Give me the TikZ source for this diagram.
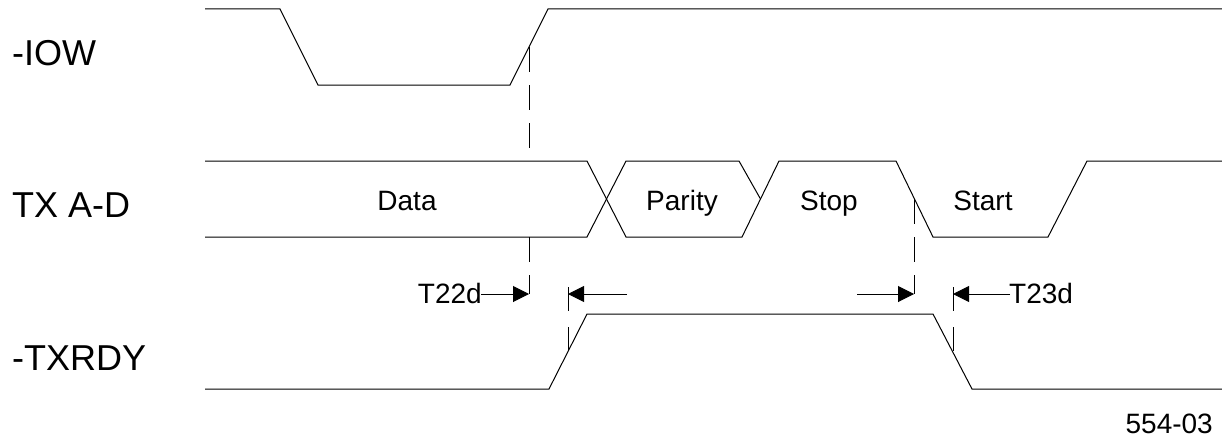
\documentclass[tikz,border=0pt]{standalone}
\usepackage{fontspec}
\setmainfont{Liberation Sans}
\usetikzlibrary{arrows.meta}
\begin{document}
\begin{tikzpicture}[x=1pt,y=-1pt,
    wave/.style={line width=1pt,line join=miter},
    guide/.style={line width=1pt,dash pattern=on 25pt off 13pt},
    tick/.style={line width=1pt,dash pattern=on 24pt off 16pt},
    delay/.style={line width=1pt,-{Triangle[length=16pt,width=16pt]}},
    sig/.style={anchor=base west,inner sep=0pt,font=\fontsize{36}{40}\selectfont},
    val/.style={anchor=base,inner sep=0pt,font=\fontsize{28}{32}\selectfont}]
  \useasboundingbox (0,0) rectangle (1222,444);
  % signal names
  \node[sig] (iow) at (12,65) {-IOW};
  \node[sig] (txad) at (12,217) {TX A-D};
  \node[sig] (txrdy) at (12,370) {-TXRDY};
  % waveforms
  \draw[wave] (205,9) -- (280,9) -- (318,85) -- (510,85) -- (548,9) -- (1222,9);
  \draw[wave] (205,161) -- (587,161) -- (626,237) -- (742,237) -- (779,161) -- (896,161)
              -- (933,237) -- (1048,237) -- (1087,161) -- (1222,161);
  \draw[wave] (205,237) -- (587,237) -- (626,161) -- (739,161) -- (760.5,199);
  \draw[wave] (205,389) -- (549,389) -- (587,314) -- (933,314) -- (972,389) -- (1222,389);
  \node[val] (data) at (407,210) {Data};
  \node[val] (parity) at (682,210) {Parity};
  \node[val] (stop) at (829,210) {Stop};
  \node[val] (start) at (983,210) {Start};
  % timing marks
  \coordinate (g1) at (529,47);
  \coordinate (g2) at (529,294);
  \coordinate (g3) at (914,199);
  \coordinate (g4) at (914,294);
  \coordinate (r1) at (568,287);
  \coordinate (r2) at (568,351.5);
  \coordinate (f1) at (953,287);
  \coordinate (f2) at (953,352.5);
  \draw[guide] (g1) -- (529,152);
  \draw[guide] (529,237) -- (g2);
  \draw[guide] (g3) -- (g4);
  \draw[tick] (r1) -- (r2);
  \draw[tick] (f1) -- (f2);
  \node[val,anchor=base east] (t22) at (482,303) {T22d};
  \node[val,anchor=base west] (t23) at (1009,303) {T23d};
  \draw[delay] (481,294) -- (g2);
  \draw[delay] (627,294) -- (r1 |- g2);
  \draw[delay] (857,294) -- (g4);
  \draw[delay] (1010,294) -- (f1 |- g4);
  \node[val,anchor=base east] (fig) at (1213,433) {554-03};
\end{tikzpicture}
\end{document}
